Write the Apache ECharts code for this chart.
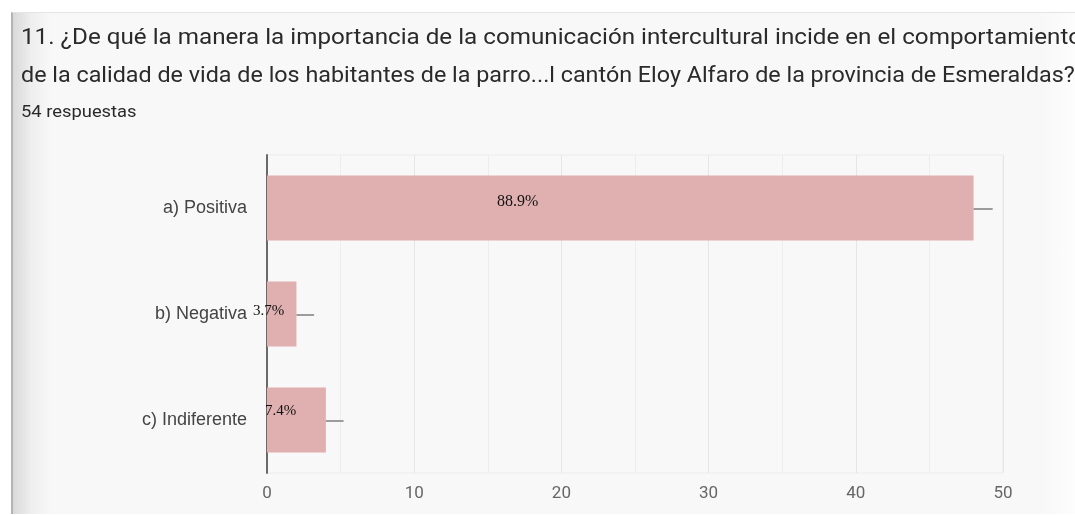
<!DOCTYPE html>
<html>
<head>
<meta charset="utf-8">
<script src="https://cdn.jsdelivr.net/npm/echarts@6/dist/echarts.min.js"></script>
<style>
  html, body { margin: 0; padding: 0; background: #fff; }
  #panel {
    position: absolute; left: 11px; top: 12px; width: 1064px; height: 501px;
    border-top: 1px solid #e4e4e4; border-left: 2px solid #b4b4b4;
    background: linear-gradient(to right, #d9d9d9 0px, #eeeeee 18px, #f6f6f6 34px, #f8f8f8 40px, #f8f8f8 1030px, #fbfbfb 1050px, #fdfdfd 1064px);
  }
  #chart { position: absolute; left: 0; top: 0; width: 1075px; height: 515px; }
</style>
</head>
<body>
<div id="panel"></div>
<div id="chart"></div>
<script>
// datos
var categories = ['a) Positiva', 'b) Negativa', 'c) Indiferente'];
var counts = [48, 2, 4];
var percentLabels = ['88.9%', '3.7%', '7.4%'];
var whiskerEnds = [49.3, 3.2, 5.2];
var xMin = 0, xMax = 50, xStep = 10;

var titleLines = [
    '11. ¿De qué la manera la importancia de la comunicación intercultural incide en el comportamiento',
    'de la calidad de vida de los habitantes de la parro...l cantón Eloy Alfaro de la provincia de Esmeraldas?'
];
var subtitle = '54 respuestas';

// donde cae cada etiqueta respecto a su barra (solo estilo)
var labelPos = [[230, 26], [-14, 30], [-2, 24]];

var chart = echarts.init(document.getElementById('chart'), null, {renderer: 'canvas'});

var barData = counts.map(function(v, i) {
    return {
        value: v,
        label: {
            show: true,
            formatter: percentLabels[i],
            position: labelPos[i],
            align: 'left',
            verticalAlign: 'middle',
            fontFamily: '"Liberation Serif", "Times New Roman", serif',
            fontSize: i == 0 ? 16 : 15,
            color: '#111'
        }
    };
});

var whiskerData = counts.map(function(v, i) {
    return [v, i, whiskerEnds[i]];
});

var option = {
    animation: false,
    backgroundColor: 'transparent',
    graphic: [
        {type: 'text', x: 21, y: 27, scaleX: 1.1, style: {text: titleLines[0], font: '22px Roboto', fill: '#2a2a2a'}},
        {type: 'text', x: 21, y: 65, scaleX: 1.06, style: {text: titleLines[1], font: '22px Roboto', fill: '#2a2a2a'}},
        {type: 'text', x: 21, y: 104, scaleX: 1.08, style: {text: subtitle, font: '17px Roboto', fill: '#2a2a2a'}}
    ],
    grid: {
        left: 267, right: 72, top: 155, bottom: 42,
        show: true, borderColor: '#ececec', borderWidth: 1, backgroundColor: 'transparent'
    },
    xAxis: {
        type: 'value',
        min: xMin, max: xMax, interval: xStep,
        axisLine: {show: false},
        axisTick: {show: false},
        axisLabel: {color: '#666', fontSize: 17, fontFamily: 'Roboto, Arial, sans-serif', margin: 12},
        splitLine: {show: true, lineStyle: {color: '#e6e6e6', width: 1}},
        minorTick: {show: false, splitNumber: 2},
        minorSplitLine: {show: true, lineStyle: {color: '#ededed', width: 1}}
    },
    yAxis: {
        type: 'category',
        data: categories,
        inverse: true,
        axisLine: {show: true, lineStyle: {color: '#6a6a6a', width: 2}},
        axisTick: {show: false},
        axisLabel: {color: '#444', fontSize: 18, fontFamily: '"Liberation Sans", Arial, sans-serif', margin: 20}
    },
    series: [
        {
            type: 'bar',
            data: barData,
            barWidth: 65,
            itemStyle: {color: '#e0b0b1'},
            z: 2
        },
        {
            type: 'custom',
            data: whiskerData,
            z: 3,
            renderItem: function(params, api) {
                var a = api.coord([api.value(0), api.value(1)]);
                var b = api.coord([api.value(2), api.value(1)]);
                return {
                    type: 'line',
                    shape: {x1: a[0], y1: a[1] + 1, x2: b[0], y2: b[1] + 1},
                    style: {stroke: '#9c9c9c', lineWidth: 2}
                };
            }
        }
    ]
};

chart.setOption(option);
</script>
</body>
</html>
